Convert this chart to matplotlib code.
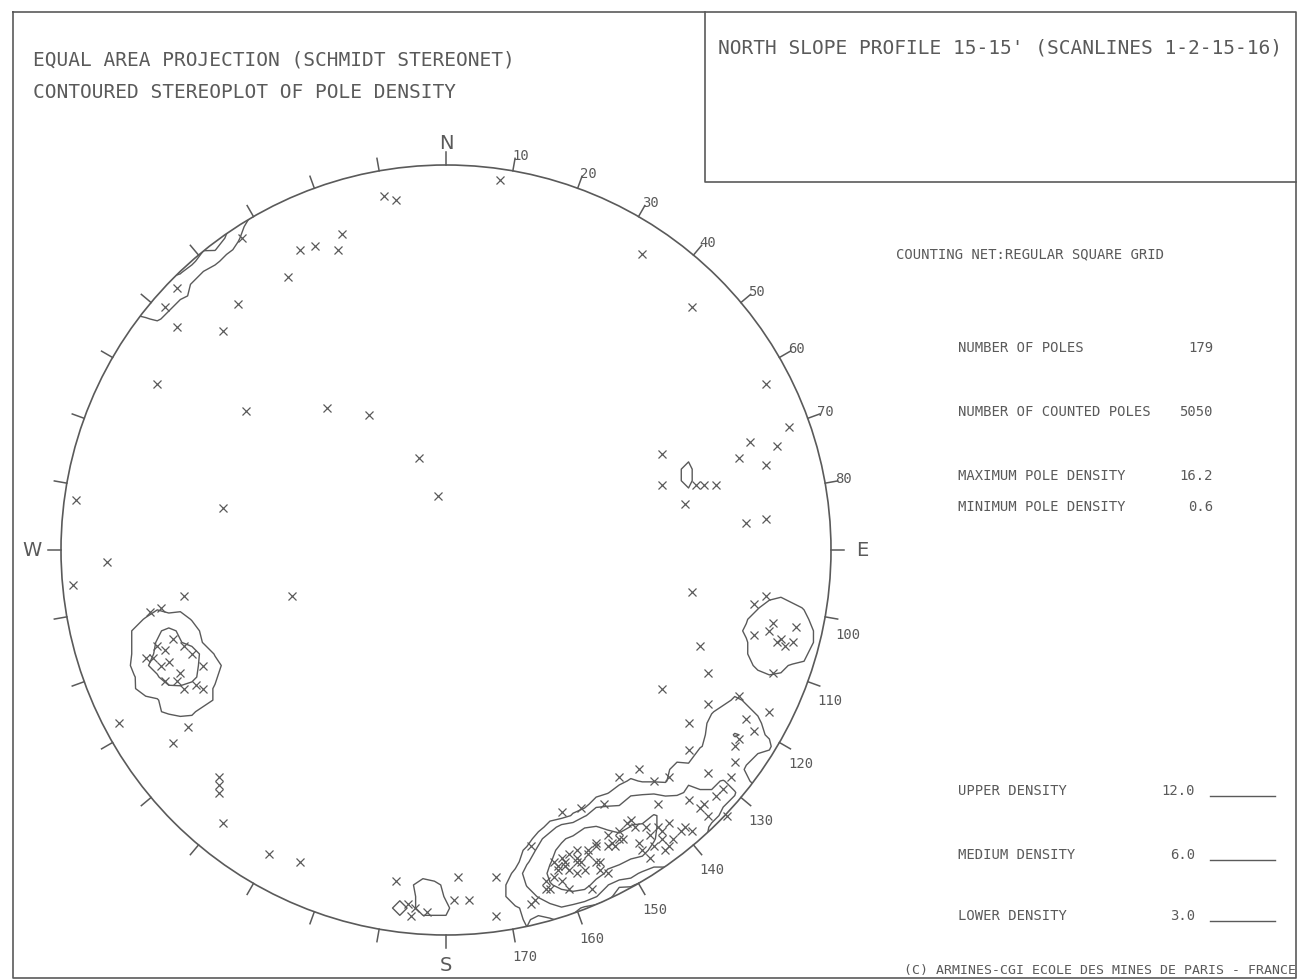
import numpy as np
import matplotlib.pyplot as plt
from matplotlib.patches import Circle

# pole positions on the lower-hemisphere Schmidt net, in percent of net radius (east, north)
pole_e = [14, -16, -13, -38, -34, -28, -27, -53, -41, -70, -73, -70, -58, -54, -75, -52, -31, -20, -7, -2, -96, -58,
          -88, -97, -40, -77, -74, -68, -78, -76, -73, -71, -68, -74, -73, -70, -68, -65, -63, -63, -85, -67, -71,
          -59, -59, -59, -58, -46, -38,
          51, 64, 83, 89, 79, 86, 76, 83, 56, 56, 70, 65, 67, 62, 78, 83, 64, 80, 83, 85, 91, 80, 86, 88, 90, 66, 68,
          85, 56, 68, 76, 84, 63, 80, 76, 75, 63, 68, 58, 45, 50, 54, 72, 74, 63, 67, 55, 68, 73,
          30, 35, 41, 22, 47, 49, 52, 55, 58, 61, 64, 42, 43, 45, 46, 39, 39, 56, 58, 57, 51, 53, 28, 30, 32, 34, 37,
          29, 32, 35, 39, 40, 42, 26, 27, 26, 32, 38, 23, 22, -13, 3, 13, -10, -5, -9, 2, 13, 34, 31, 44,
          31, 34, 29, 36, 30, 37, 28, 34, 53, 56, 59, 50, 54, 62, 45, 42, 66, 70,
          -72, -69, -75, -66, 87, 84, -8, 6, 75, 78, 40, 48]
pole_n = [96, 92, 91, 78, 79, 78, 82, 81, 71, 68, 63, 58, 57, 64, 43, 36, 37, 35, 24, 14, 13, 11,
          -3, -9, -12, -16, -15, -12, -28, -28, -26, -23, -25, -30, -34, -34, -36, -35, -36, -30, -45, -46, -50,
          -59, -61, -63, -71, -79, -81,
          77, 63, 43, 32, 28, 27, 24, 22, 25, 17, 17, 17, 17, 12, 7, 8, -11, -14, -12, -19, -20, -22, -24, -25, -24,
          -25, -32, -32, -36, -40, -38, -42, -45, -47, -49, -51, -52, -58, -59, -59, -57, -60, -62, -59, -65, -66,
          -66, -69, -69,
          -68, -67, -66, -77, -71, -72, -72, -72, -71, -73, -73, -74, -76, -75, -75, -76, -77, -75, -77, -78, -78,
          -80, -81, -80, -79, -78, -78, -83, -83, -81, -81, -83, -84, -88, -88, -86, -88, -88, -91, -92, -86, -85,
          -85, -92, -94, -95, -91, -95, -81, -82, -77,
          -81, -80, -82, -83, -86, -79, -85, -84, -74, -73, -75, -76, -77, -72, -73, -77, -67, -64,
          -29, -32, -25, -27, -23, -21, -93, -91, -55, -44, -81, -70]

contour_levels = [3.0, 6.0, 12.0]
level_names = ['UPPER DENSITY', 'MEDIUM DENSITY', 'LOWER DENSITY']
level_values = ['12.0', '6.0', '3.0']

stats_names = ['NUMBER OF POLES', 'NUMBER OF COUNTED POLES', 'MAXIMUM POLE DENSITY', 'MINIMUM POLE DENSITY']
stats_values = ['179', '5050', '16.2', '0.6']

rim_labels = [a for a in range(10, 180, 10) if a != 90]
cardinals = {'N': (0, 1.055), 'E': (90, 1.08), 'S': (180, 1.078), 'W': (270, 1.075)}

ink = '#5a5a5a'
mono = 'DejaVu Sans Mono'

x = np.array(pole_e) / 100.0
y = np.array(pole_n) / 100.0

# counting net: regular square grid, 1% area counting circle, poles near the
# primitive also counted on the opposite side of the net
rc = 0.1
rho = np.hypot(x, y)
near = rho > 1 - rc
mx = -x[near] / rho[near] * (2 - rho[near])
my = -y[near] / rho[near] * (2 - rho[near])
cx = np.concatenate([x, mx])
cy = np.concatenate([y, my])

g = np.linspace(-1.02, 1.02, 69)
GX, GY = np.meshgrid(g, g)
d2 = (GX[..., None] - cx) ** 2 + (GY[..., None] - cy) ** 2
density = (d2 <= rc ** 2).sum(axis=-1) / len(x) * 100.0

fig = plt.figure(figsize=(12.98, 9.8), dpi=100)

# page frame and header box, in pixel units
page = fig.add_axes([0, 0, 1, 1])
page.set_xlim(0, 1298)
page.set_ylim(980, 0)
page.axis('off')
page.plot([13, 1296, 1296, 13, 13], [12, 12, 978, 978, 12], color=ink, lw=1.2)
page.plot([705, 705, 1296], [12, 182, 182], color=ink, lw=1.2)

page.text(33, 60, 'EQUAL AREA PROJECTION (SCHMIDT STEREONET)', family=mono, fontsize=14,
          color=ink, va='center')
page.text(33, 92, 'CONTOURED STEREOPLOT OF POLE DENSITY', family=mono, fontsize=14,
          color=ink, va='center')
page.text(718, 48, "NORTH SLOPE PROFILE 15-15' (SCANLINES 1-2-15-16)", family=mono, fontsize=14,
          color=ink, va='center')

page.text(896, 254, 'COUNTING NET:REGULAR SQUARE GRID', family=mono, fontsize=10, color=ink, va='center')
for yy, name, val in zip([348, 412, 476, 507], stats_names, stats_values):
    page.text(958, yy, name, family=mono, fontsize=10, color=ink, va='center')
    page.text(1213, yy, val, family=mono, fontsize=10, color=ink, va='center', ha='right')
for yy, name, val in zip([791, 855, 916], level_names, level_values):
    page.text(958, yy, name, family=mono, fontsize=10, color=ink, va='center')
    page.text(1195, yy, val, family=mono, fontsize=10, color=ink, va='center', ha='right')
    page.plot([1210, 1275], [yy + 5, yy + 5], color=ink, lw=1)
page.text(1296, 970, '(C) ARMINES-CGI ECOLE DES MINES DE PARIS - FRANCE', family=mono, fontsize=9.5,
          color=ink, va='center', ha='right')

# the net itself: unit circle centred in its own axes
net = fig.add_axes([22.5 / 1298, 6.5 / 980, 847 / 1298, 847 / 980])
net.set_xlim(-1.1, 1.1)
net.set_ylim(-1.1, 1.1)
net.axis('off')

prim = Circle((0, 0), 1, fill=False, ec=ink, lw=1.2)
net.add_patch(prim)

tl = 0.033
for az in range(0, 360, 10):
    t = np.radians(az)
    net.plot([np.sin(t), (1 + tl) * np.sin(t)], [np.cos(t), (1 + tl) * np.cos(t)], color=ink, lw=1.1)
for az in rim_labels:
    t = np.radians(az)
    ex, ey = (1 + tl) * np.sin(t), (1 + tl) * np.cos(t)
    upper = az < 90
    net.text(ex - 0.006, ey + (-0.012 if upper else -0.022), str(az), family=mono, fontsize=10,
             color=ink, ha='left', va='bottom' if upper else 'top')
for lab, (az, r) in cardinals.items():
    t = np.radians(az)
    net.text(r * np.sin(t), r * np.cos(t), lab, fontsize=14, color=ink,
             ha='center', va='center')

cs = net.contour(GX, GY, density, levels=contour_levels, colors=ink, linewidths=1.0)
clip = Circle((0, 0), 1, transform=net.transData)
cs.set_clip_path(clip)

net.plot(x, y, 'x', color=ink, ms=6, mew=0.9)

fig.savefig('out.png', dpi=100)
